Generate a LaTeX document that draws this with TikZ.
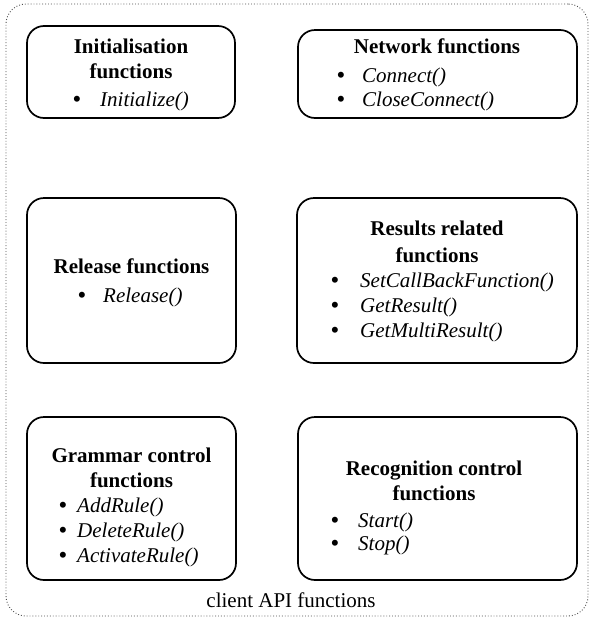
\documentclass[tikz,border=0pt]{standalone}
\usepackage{fontspec}
\setmainfont{Liberation Serif}
\begin{document}
\begin{tikzpicture}[x=1pt,y=-1pt,
  group/.style={draw, line width=1.7pt, rounded corners=17pt, inner sep=0pt},
  frame/.style={draw=black!70, line width=0.9pt, dotted, rounded corners=20pt, inner sep=0pt},
  title/.style={anchor=base, inner sep=0pt, font=\fontsize{21}{25}\selectfont\bfseries},
  item/.style={anchor=base west, inner sep=0pt, font=\fontsize{21}{25}\selectfont\itshape},
  dot/.style={anchor=base, inner sep=0pt, font=\fontsize{22}{25}\selectfont\bfseries},
  caption/.style={anchor=base, inner sep=0pt, font=\fontsize{21}{25}\selectfont}]
\useasboundingbox (0,0) rectangle (590,619);

% outer dotted frame
\node[frame, minimum width=582pt, minimum height=612pt] (api) at (297,310) {};
\node[caption] (apilabel) at (291,607) {client API functions};

% initialisation
\node[group, minimum width=208pt, minimum height=92pt] (init) at (131,72) {};
\node[title] (initt1) at (131,53) {Initialisation};
\node[title] (initt2) at (131,78) {functions};
\node[dot] (initb1) at (77,106) {•};
\node[item] (initi1) at (100,106) {Initialize()};

% network
\node[group, minimum width=279pt, minimum height=88pt] (net) at (437.5,74) {};
\node[title] (nett1) at (437,53) {Network functions};
\node[dot] (netb1) at (341,82) {•};
\node[item] (neti1) at (362,82) {Connect()};
\node[dot] (netb2) at (341,106) {•};
\node[item] (neti2) at (362,106) {CloseConnect()};

% release
\node[group, minimum width=209pt, minimum height=165pt] (rel) at (131.5,280.5) {};
\node[title] (relt1) at (131.5,273) {Release functions};
\node[dot] (relb1) at (82,302) {•};
\node[item] (reli1) at (103,302) {Release()};

% results
\node[group, minimum width=280pt, minimum height=165pt] (res) at (437,280.5) {};
\node[title] (rest1) at (437,235) {Results related};
\node[title] (rest2) at (437,262) {functions};
\node[dot] (resb1) at (335,287) {•};
\node[item] (resi1) at (360,287) {SetCallBackFunction()};
\node[dot] (resb2) at (335,312) {•};
\node[item] (resi2) at (360,312) {GetResult()};
\node[dot] (resb3) at (335,337) {•};
\node[item] (resi3) at (360,337) {GetMultiResult()};

% grammar control
\node[group, minimum width=209pt, minimum height=163pt] (gram) at (131.5,498.5) {};
\node[title] (gramt1) at (131.5,462) {Grammar control};
\node[title] (gramt2) at (131.5,487) {functions};
\node[dot] (gramb1) at (63,512) {•};
\node[item] (grami1) at (77,512) {AddRule()};
\node[dot] (gramb2) at (63,537) {•};
\node[item] (grami2) at (77,537) {DeleteRule()};
\node[dot] (gramb3) at (63,562) {•};
\node[item] (grami3) at (77,562) {ActivateRule()};

% recognition control
\node[group, minimum width=279pt, minimum height=163pt] (rec) at (437.5,498.5) {};
\node[title] (rect1) at (434,475) {Recognition control};
\node[title] (rect2) at (434,500) {functions};
\node[dot] (recb1) at (335,527) {•};
\node[item] (reci1) at (358,527) {Start()};
\node[dot] (recb2) at (335,550) {•};
\node[item] (reci2) at (358,550) {Stop()};
\end{tikzpicture}
\end{document}
